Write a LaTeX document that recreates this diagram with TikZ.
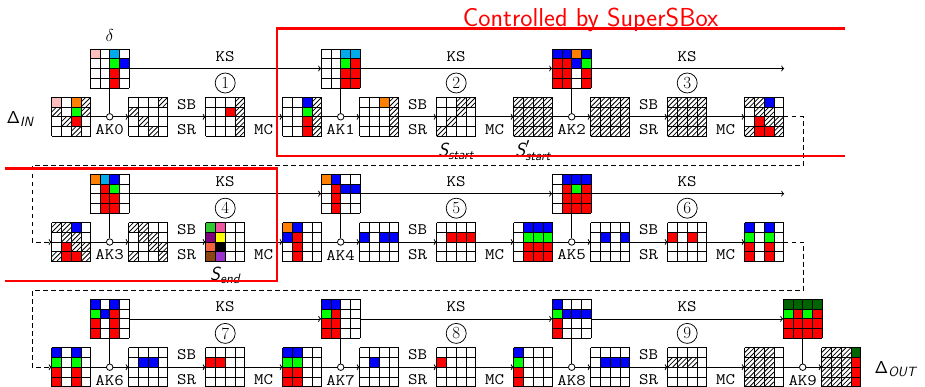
\documentclass[tikz,border=0pt]{standalone}
\usepackage[no-math]{fontspec}
\usetikzlibrary{arrows.meta}
\definecolor{cellw}{RGB}{255,255,255}
\definecolor{cellh}{RGB}{255,255,255}
\definecolor{cellp}{RGB}{255,190,190}
\definecolor{cellc}{RGB}{0,170,235}
\definecolor{cellb}{RGB}{0,0,255}
\definecolor{cellg}{RGB}{0,255,0}
\definecolor{cellr}{RGB}{255,0,0}
\definecolor{cello}{RGB}{255,128,0}
\definecolor{celld}{RGB}{0,100,0}
\definecolor{cellG}{RGB}{50,200,50}
\definecolor{cellP}{RGB}{240,85,160}
\definecolor{cellU}{RGB}{128,0,128}
\definecolor{cellY}{RGB}{255,255,0}
\definecolor{cellO}{RGB}{245,100,60}
\definecolor{cellK}{RGB}{0,0,0}
\definecolor{cellN}{RGB}{139,69,19}
\definecolor{cellV}{RGB}{155,50,205}
\def\cellsz{9.75}
\newcommand{\tw}[1]{\scalebox{1.15}[1]{#1}}
\newcommand{\mygrid}[4]{%
  \node[gridnode] (#1) at (#2,#3) {};
  \pgfmathsetmacro{\gL}{#2-2*\cellsz}%
  \pgfmathsetmacro{\gT}{#3-2*\cellsz}%
  \pgfmathsetmacro{\gS}{4*\cellsz}%
  \foreach \cc [count=\ii from 0] in {#4} {%
    \pgfmathtruncatemacro{\gcl}{mod(\ii,4)}%
    \pgfmathtruncatemacro{\grw}{div(\ii,4)}%
    \pgfmathsetmacro{\gx}{\gL+\gcl*\cellsz}%
    \pgfmathsetmacro{\gy}{\gT+\grw*\cellsz}%
    \path[fill=cell\cc] (\gx,\gy) rectangle ++(\cellsz,\cellsz);%
    \if\cc h\path[hatch] (\gx,\gy) rectangle ++(\cellsz,\cellsz);\fi
  }%
  \foreach \jj in {0,...,4} {%
    \draw[gridline] (\gL+\jj*\cellsz,\gT) -- ++(0,\gS);
    \draw[gridline] (\gL,\gT+\jj*\cellsz) -- ++(\gS,0);
  }%
}
\newcommand{\rowlabels}[9]{%
  \foreach \gx/\gn in {186.7/1,417.7/2,648.7/3} {%
    \node[lab] (#1sb\gn) at (\gx,#2-12.1) {\tw{SB}};
    \node[lab] (#1sr\gn) at (\gx,#2+12.7) {\tw{SR}};
  }%
  \foreach \gx/\gn in {263.7/1,494.7/2,725.7/3} {%
    \node[lab] (#1mc\gn) at (\gx,#2+12.4) {\tw{MC}};
  }%
  \foreach \gx/\gn in {225.2/1,456.2/2,687.2/3} {%
    \node[lab] (#1ks\gn) at (\gx,#3-12.2) {\tw{KS}};
  }%
  \node[lab] (#1ak1) at (109.7,#2+13) {\tw{AK#4}};
  \node[lab] (#1ak2) at (340.7,#2+13) {\tw{AK#5}};
  \node[lab] (#1ak3) at (571.7,#2+13) {\tw{AK#6}};
  \node[numc] (#1n1) at (225.2,#2-33.8) {#7};
  \node[numc] (#1n2) at (456.2,#2-33.8) {#8};
  \node[numc] (#1n3) at (687.2,#2-33.8) {#9};
}
\begin{document}
\begin{tikzpicture}[x=1pt,y=-1pt,
  gridnode/.style={minimum size=39pt,inner sep=0pt,outer sep=0pt},
  gridline/.style={line width=0.9pt,black},
  hatchline/.style={line width=0.8pt,black},
  hatch/.style={path picture={
    \draw[hatchline] (path picture bounding box.south west) -- (path picture bounding box.north east);
    \draw[hatchline] (path picture bounding box.west) -- (path picture bounding box.north);
    \draw[hatchline] (path picture bounding box.south) -- (path picture bounding box.east);
  }},
  conn/.style={line width=0.8pt,black},
  arr/.style={conn,-{To[length=3pt,width=6pt]}},
  dashconn/.style={arr,dash pattern=on 4.5pt off 3.5pt},
  xorc/.style={circle,draw,fill=white,line width=0.8pt,minimum size=6.5pt,inner sep=0pt},
  lab/.style={font=\ttfamily\fontsize{16}{17}\selectfont,inner sep=0pt},
  numc/.style={circle,draw,line width=0.75pt,minimum size=20pt,inner sep=0pt,
    font=\fontsize{17}{17}\selectfont},
  biglab/.style={inner sep=0pt},
  redline/.style={red,line width=2.6pt},
]
\useasboundingbox (0,0) rectangle (925,386);
\fill[white] (0,0) rectangle (925,386);

% ---------- row 1 ----------
\mygrid{a0}{71.2}{116.8}{p,w,o,h,h,w,g,h,w,h,r,w,w,w,h,w}
\mygrid{a1}{148.2}{116.8}{w,w,w,h,h,w,w,w,w,h,w,w,w,w,h,w}
\mygrid{a2}{225.2}{116.8}{w,w,w,h,w,w,r,h,w,w,w,h,w,w,w,h}
\mygrid{a3}{302.2}{116.8}{w,w,b,h,w,w,g,h,w,w,r,h,w,w,r,h}
\mygrid{a4}{379.2}{116.8}{w,w,o,h,w,w,w,h,w,w,w,h,w,w,w,h}
\mygrid{a5}{456.2}{116.8}{w,w,h,h,w,w,h,w,w,h,w,w,h,w,w,w}
\mygrid{a6}{533.2}{116.8}{h,h,h,h,h,h,h,h,h,h,h,h,h,h,h,h}
\mygrid{a7}{610.2}{116.8}{h,h,h,h,h,h,h,h,h,h,h,h,h,h,h,h}
\mygrid{a8}{687.2}{116.8}{h,h,h,h,h,h,h,h,h,h,h,h,h,h,h,h}
\mygrid{a9}{764.2}{116.8}{h,h,b,w,w,h,h,w,w,r,h,h,h,r,r,h}
\mygrid{ka0}{109.7}{68.5}{p,w,c,w,w,w,g,b,w,w,r,w,w,w,r,w}
\mygrid{ka1}{340.7}{68.5}{w,w,c,c,w,w,g,r,w,w,r,r,w,w,r,r}
\mygrid{ka2}{571.7}{68.5}{b,b,o,b,r,r,b,g,r,r,w,r,r,r,w,r}

% ---------- row 2 ----------
\mygrid{b0}{71.2}{242.0}{h,h,b,w,w,h,h,w,w,r,h,h,h,r,r,h}
\mygrid{b1}{148.2}{242.0}{h,h,w,w,w,h,h,w,w,w,h,h,h,w,w,h}
\mygrid{b2}{225.2}{242.0}{G,P,w,w,U,Y,w,w,O,K,w,w,N,V,w,w}
\mygrid{b3}{302.2}{242.0}{o,b,w,w,b,r,w,w,w,r,w,w,w,r,w,w}
\mygrid{b4}{379.2}{242.0}{w,w,w,w,b,w,b,b,w,w,w,w,w,w,w,w}
\mygrid{b5}{456.2}{242.0}{w,w,w,w,w,r,r,r,w,w,w,w,w,w,w,w}
\mygrid{b6}{533.2}{242.0}{w,b,b,b,w,g,g,g,w,r,r,r,w,r,r,r}
\mygrid{b7}{610.2}{242.0}{w,w,w,w,w,b,w,b,w,w,w,w,w,w,w,w}
\mygrid{b8}{687.2}{242.0}{w,w,w,w,r,w,r,w,w,w,w,w,w,w,w,w}
\mygrid{b9}{764.2}{242.0}{b,w,b,w,g,w,g,w,r,w,r,w,r,w,r,w}
\mygrid{kb0}{109.7}{193.7}{o,c,b,w,w,r,g,w,w,r,r,w,w,r,r,w}
\mygrid{kb1}{340.7}{193.7}{o,b,w,w,w,r,b,b,w,r,w,w,w,r,w,w}
\mygrid{kb2}{571.7}{193.7}{w,b,b,b,w,r,g,r,w,r,r,r,w,r,r,r}

% ---------- row 3 ----------
\mygrid{c0}{71.2}{367.2}{b,w,b,w,g,w,g,w,r,w,r,w,r,w,r,w}
\mygrid{c1}{148.2}{367.2}{w,w,w,w,w,b,b,w,w,w,w,w,w,w,w,w}
\mygrid{c2}{225.2}{367.2}{w,w,w,w,r,r,w,w,w,w,w,w,w,w,w,w}
\mygrid{c3}{302.2}{367.2}{b,b,w,w,g,g,w,w,r,r,w,w,r,r,w,w}
\mygrid{c4}{379.2}{367.2}{w,w,w,w,w,b,w,w,w,w,w,w,w,w,w,w}
\mygrid{c5}{456.2}{367.2}{w,w,w,w,r,w,w,w,w,w,w,w,w,w,w,w}
\mygrid{c6}{533.2}{367.2}{b,w,w,w,g,w,w,w,r,w,w,w,r,w,w,w}
\mygrid{c7}{610.2}{367.2}{w,w,w,w,w,b,b,b,w,w,w,w,w,w,w,w}
\mygrid{c8}{687.2}{367.2}{w,w,w,w,h,h,h,w,w,w,w,w,w,w,w,w}
\mygrid{c9}{764.2}{367.2}{h,h,h,w,h,h,h,w,h,h,h,w,h,h,h,w}
\mygrid{c10}{841.2}{367.2}{h,h,h,d,h,h,h,r,h,h,h,r,h,h,h,r}
\mygrid{kc0}{109.7}{318.9}{b,w,b,w,g,b,r,w,r,w,r,w,r,w,r,w}
\mygrid{kc1}{340.7}{318.9}{b,b,w,w,g,r,w,w,r,r,w,w,r,r,w,w}
\mygrid{kc2}{571.7}{318.9}{b,w,w,w,g,b,b,b,r,w,w,w,r,w,w,w}
\mygrid{kc3}{802.7}{318.9}{d,d,d,d,g,r,g,r,r,r,r,r,r,r,r,r}

% ---------- AK circles ----------
\node[xorc] (xa0) at (109.7,116.8) {};
\node[xorc] (xa1) at (340.7,116.8) {};
\node[xorc] (xa2) at (571.7,116.8) {};
\node[xorc] (xb0) at (109.7,242.0) {};
\node[xorc] (xb1) at (340.7,242.0) {};
\node[xorc] (xb2) at (571.7,242.0) {};
\node[xorc] (xc0) at (109.7,367.2) {};
\node[xorc] (xc1) at (340.7,367.2) {};
\node[xorc] (xc2) at (571.7,367.2) {};
\node[xorc] (xc3) at (802.7,367.2) {};

% ---------- state connectors ----------
\foreach \r in {a,b,c} {
  \draw[conn] (\r0.east) -- (x\r0.west);
  \draw[arr] (x\r0.east) -- (\r1.west);
  \draw[conn] (\r3.east) -- (x\r1.west);
  \draw[arr] (x\r1.east) -- (\r4.west);
  \draw[conn] (\r6.east) -- (x\r2.west);
  \draw[arr] (x\r2.east) -- (\r7.west);
  \foreach \s/\t in {1/2,2/3,4/5,5/6,7/8,8/9} {
    \draw[arr] (\r\s.east) -- (\r\t.west);
  }
  \draw[conn] (k\r0.south) -- (x\r0.north);
  \draw[conn] (k\r1.south) -- (x\r1.north);
  \draw[conn] (k\r2.south) -- (x\r2.north);
  \draw[arr] (k\r0.east) -- (k\r1.west);
  \draw[arr] (k\r1.east) -- (k\r2.west);
}
\draw[conn] (c9.east) -- (xc3.west);
\draw[arr] (xc3.east) -- (c10.west);
\draw[conn] (kc3.south) -- (xc3.north);
\draw[arr] (kc2.east) -- (kc3.west);
\coordinate (enda) at (784.2,68.5);
\coordinate (endb) at (784.2,193.7);
\draw[arr] (ka2.east) -- (enda);
\draw[arr] (kb2.east) -- (endb);

% ---------- dashed row links ----------
\coordinate (da1) at (803.5,116.8);
\coordinate (da2) at (803.5,165.0);
\coordinate (da3) at (32.3,165.0);
\coordinate (da4) at (32.3,242.0);
\draw[dashconn] (a9.east) -- (da1) -- (da2) -- (da3) -- (da4) -- (b0.west);
\coordinate (db1) at (803.5,242.0);
\coordinate (db2) at (803.5,290.2);
\coordinate (db3) at (32.3,290.2);
\coordinate (db4) at (32.3,367.2);
\draw[dashconn] (b9.east) -- (db1) -- (db2) -- (db3) -- (db4) -- (c0.west);

% ---------- labels ----------
\rowlabels{ra}{116.8}{68.5}{0}{1}{2}{1}{2}{3}
\rowlabels{rb}{242.0}{193.7}{3}{4}{5}{4}{5}{6}
\rowlabels{rc}{367.2}{318.9}{6}{7}{8}{7}{8}{9}
\node[lab] (rcak4) at (802.7,380.2) {\tw{AK9}};

\node[biglab,anchor=base] (delta) at (109.7,41.5) {\fontsize{17}{20}\selectfont$\delta$};
\node[biglab,anchor=base west] (din) at (6.5,123.3) {\fontsize{17}{20}\selectfont$\mathsf{\Delta}_{\mbox{\fontsize{13.4}{14}\selectfont\sffamily\itshape IN}}$};
\node[biglab,anchor=base west] (dout) at (874.5,373.3) {\fontsize{17}{20}\selectfont$\mathsf{\Delta}_{\mbox{\fontsize{13.4}{14}\selectfont\sffamily\itshape OUT}}$};
\node[biglab,anchor=base] (sstart) at (456.2,156.5) {\fontsize{19}{22}\selectfont$\mbox{\sffamily\itshape S}_{\mbox{\fontsize{13.6}{14}\selectfont\sffamily\itshape start}}$};
\node[biglab,anchor=base] (sstartp) at (533.2,156.5) {\fontsize{19}{22}\selectfont$\mbox{\sffamily\itshape S}'_{\mbox{\fontsize{13.6}{14}\selectfont\sffamily\itshape start}}$};
\node[biglab,anchor=base] (send) at (225.2,280.5) {\fontsize{19}{22}\selectfont$\mbox{\sffamily\itshape S}_{\mbox{\fontsize{13.6}{14}\selectfont\sffamily\itshape end}}$};

% ---------- red frames ----------
\node[biglab,anchor=base east,text=red] (ctrl) at (718.5,26.5) {\fontsize{26}{30}\selectfont\sffamily Controlled by SuperSBox};
\draw[redline] (845,28.3) -- (277,28.3) -- (277,155.8) -- (845,155.8);
\draw[redline] (5,168.3) -- (277,168.3) -- (277,281) -- (5,281);
\end{tikzpicture}
\end{document}
